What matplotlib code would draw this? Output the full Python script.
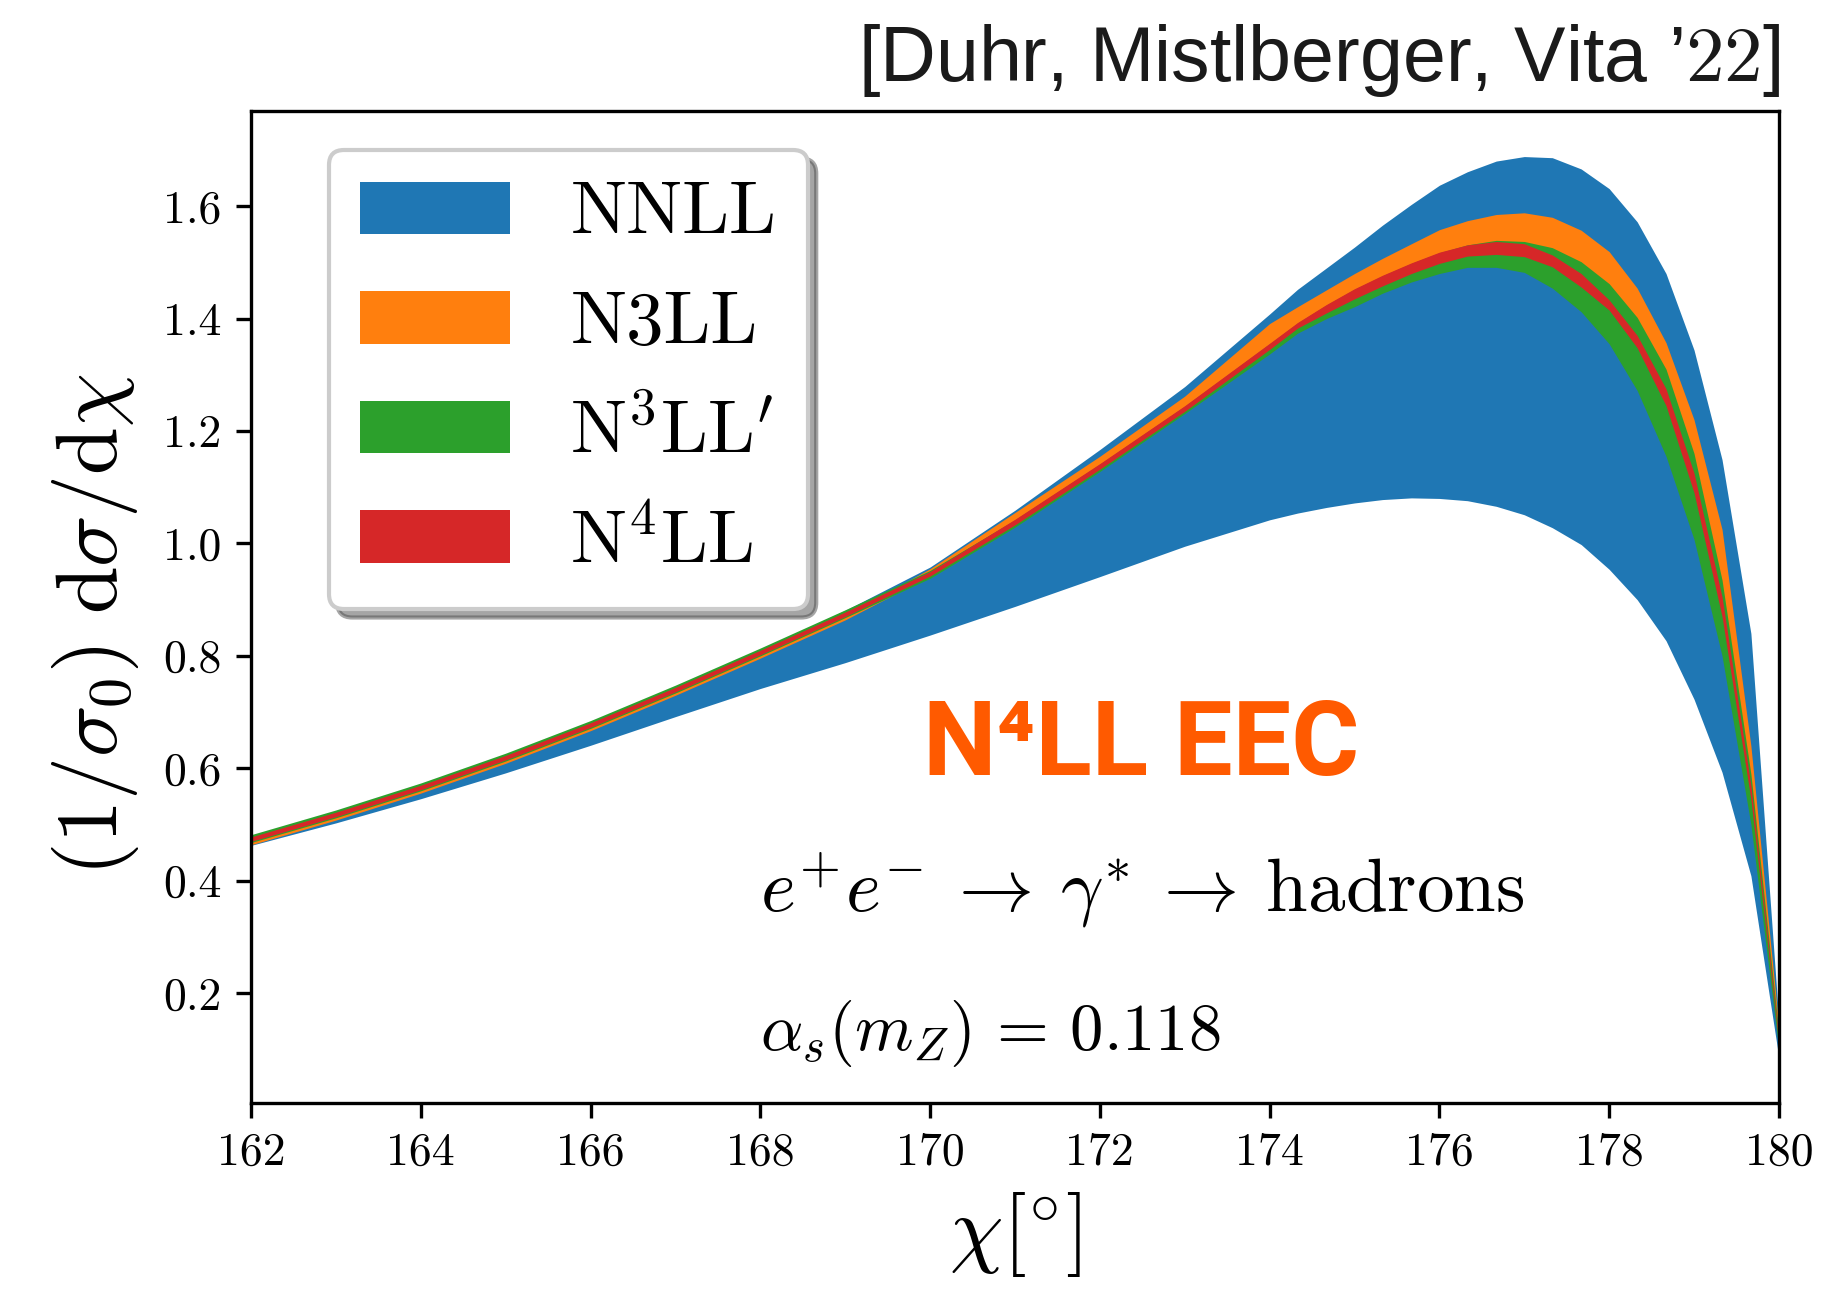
import matplotlib
matplotlib.use("Agg")
import matplotlib.pyplot as plt

# scattering angle in degrees
chi = [162, 163, 164, 165, 166, 167, 168, 169, 170, 171, 172, 173, 174,
       174.33, 174.67, 175, 175.33, 175.67, 176, 176.33, 176.67, 177,
       177.33, 177.67, 178, 178.33, 178.67, 179, 179.33, 179.67, 180]

# NNLL band
nnll_lo = [0.463, 0.503, 0.546, 0.592, 0.641, 0.692, 0.742, 0.788, 0.837, 0.888, 0.941, 0.995, 1.042,
           1.054, 1.064, 1.072, 1.078, 1.081, 1.080, 1.076, 1.066, 1.051,
           1.028, 0.998, 0.954, 0.900, 0.827, 0.723, 0.593, 0.409, 0.085]
nnll_hi = [0.479, 0.523, 0.571, 0.624, 0.682, 0.745, 0.811, 0.881, 0.958, 1.059, 1.167, 1.279, 1.408,
           1.452, 1.490, 1.527, 1.566, 1.603, 1.637, 1.661, 1.680, 1.688,
           1.686, 1.666, 1.631, 1.572, 1.480, 1.344, 1.149, 0.840, 0.150]

# N3LL band
n3ll_lo = [0.464, 0.508, 0.556, 0.609, 0.667, 0.730, 0.796, 0.864, 0.942, 1.033, 1.132, 1.235, 1.345,
           1.383, 1.410, 1.435, 1.458, 1.480, 1.498, 1.511, 1.514, 1.510,
           1.492, 1.456, 1.415, 1.348, 1.245, 1.090, 0.870, 0.545, 0.110]
n3ll_hi = [0.472, 0.516, 0.564, 0.617, 0.675, 0.738, 0.804, 0.872, 0.955, 1.055, 1.155, 1.262, 1.391,
           1.421, 1.451, 1.480, 1.507, 1.533, 1.558, 1.574, 1.585, 1.588,
           1.580, 1.557, 1.519, 1.454, 1.357, 1.220, 1.025, 0.640, 0.140]

# N3LL' band
n3llp_lo = [0.468, 0.512, 0.560, 0.613, 0.671, 0.734, 0.800, 0.868, 0.938, 1.029, 1.128, 1.231, 1.337,
            1.374, 1.400, 1.421, 1.445, 1.465, 1.480, 1.491, 1.491, 1.482,
            1.454, 1.412, 1.355, 1.272, 1.155, 1.007, 0.800, 0.500, 0.100]
n3llp_hi = [0.482, 0.526, 0.574, 0.627, 0.685, 0.748, 0.814, 0.882, 0.952, 1.042, 1.141, 1.244, 1.355,
            1.392, 1.424, 1.452, 1.476, 1.498, 1.517, 1.531, 1.539, 1.537,
            1.526, 1.501, 1.462, 1.402, 1.310, 1.160, 0.935, 0.590, 0.130]

# N4LL band
n4ll_lo = [0.470, 0.514, 0.562, 0.615, 0.673, 0.736, 0.802, 0.870, 0.942, 1.033, 1.132, 1.235, 1.345,
           1.383, 1.410, 1.435, 1.458, 1.480, 1.498, 1.511, 1.514, 1.510,
           1.492, 1.456, 1.415, 1.348, 1.245, 1.090, 0.870, 0.545, 0.110]
n4ll_hi = [0.478, 0.522, 0.570, 0.623, 0.681, 0.744, 0.810, 0.878, 0.950, 1.043, 1.142, 1.245, 1.356,
           1.393, 1.425, 1.453, 1.477, 1.499, 1.518, 1.531, 1.537, 1.533,
           1.513, 1.480, 1.433, 1.370, 1.275, 1.125, 0.905, 0.570, 0.120]

plt.rcParams['font.family'] = 'serif'
plt.rcParams['font.serif'] = ['cmr10']
plt.rcParams['mathtext.fontset'] = 'cm'
plt.rcParams['axes.unicode_minus'] = False

fig = plt.figure(figsize=(1840 / 300, 1289 / 300), dpi=300)
ax = fig.add_axes([0.1364, 0.1443, 0.8304, 0.7692])

ax.fill_between(chi, nnll_lo, nnll_hi, color='tab:blue', lw=0, label='NNLL')
ax.fill_between(chi, n3ll_lo, n3ll_hi, color='tab:orange', lw=0, label='N3LL')
ax.fill_between(chi, n3llp_lo, n3llp_hi, color='tab:green', lw=0, label=r"N$^3$LL$'$")
ax.fill_between(chi, n4ll_lo, n4ll_hi, color='tab:red', lw=0, label=r"N$^4$LL")

ax.set_xlim(162, 180)
ax.set_xticks(range(162, 181, 2))
ax.set_yticks([0.2, 0.4, 0.6, 0.8, 1.0, 1.2, 1.4, 1.6])
ax.tick_params(labelsize=11)
ax.set_xlabel(r"$\chi[{}^{\circ}]$", fontsize=20.5)
ax.set_ylabel(r"$(1/\sigma_0)\ \mathrm{d}\sigma/\mathrm{d}\chi$", fontsize=20.6)
ax.yaxis.set_label_coords(-0.072, 0.482)

ax.legend(loc='upper left', bbox_to_anchor=(0.051, 0.961), borderaxespad=0,
          fontsize=18, shadow=True, fancybox=True, framealpha=1,
          labelspacing=0.56, borderpad=0.42)

ax.text(0.440, 0.331, "N⁴LL EEC", transform=ax.transAxes, fontsize=25,
        family=['Roboto', 'DejaVu Sans'], weight='bold', color='#ff5a00',
        ha='left', va='baseline')
ax.text(0.333, 0.193, r"$e^{+}e^{-}\:\rightarrow\:\gamma^{*}\:\rightarrow\:\mathrm{hadrons}$",
        transform=ax.transAxes, fontsize=18, ha='left', va='baseline')
ax.text(0.333, 0.0535, r"$\alpha_s(m_Z)\,=\,0.118$",
        transform=ax.transAxes, fontsize=16, ha='left', va='baseline')

fig.text(0.9675, 0.9375, "[Duhr, Mistlberger, Vita ’$22$]", fontsize=18.5,
         family=['Liberation Sans', 'DejaVu Sans'], color='#1a1a1a',
         ha='right', va='baseline')

fig.savefig("out.png", dpi=300)
